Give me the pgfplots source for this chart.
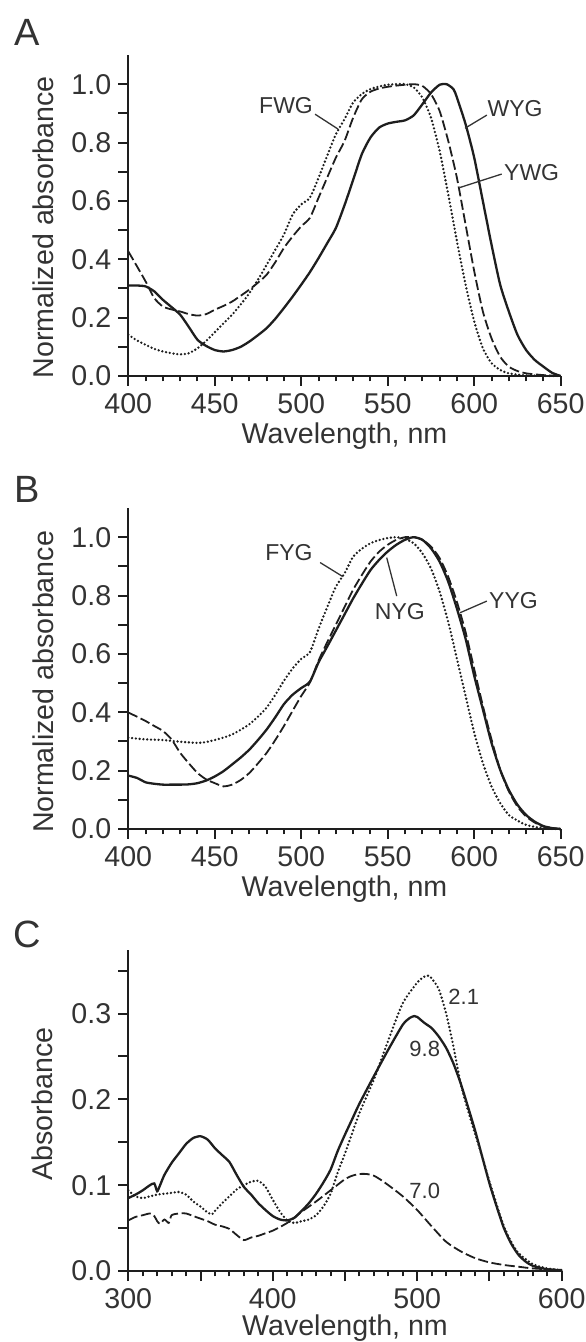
\documentclass[border=0pt]{standalone}
\usepackage{fontspec}
\setmainfont{Liberation Sans}
\usepackage{pgfplots}
\pgfplotsset{compat=1.18}
\definecolor{ink}{HTML}{1E1E1E}
\definecolor{txt}{HTML}{333333}

\pgfplotsset{
  spec/.style={
    scale only axis, width=216.2pt, height=160.5pt,
    axis x line*=bottom, axis y line*=left,
    axis line style={ink, line width=1.1pt},
    tick align=outside, tick style={ink, line width=1pt},
    major tick length=5pt, minor tick length=2.7pt,
    clip=false,
    tick label style={font=\fontsize{14.3}{16}\selectfont, text=txt},
    label style={font=\fontsize{14.3}{16}\selectfont, text=txt},
    xlabel={Wavelength, nm},
    xlabel style={at={(axis description cs:0.5,0)}, anchor=base, yshift=-34pt},
    ylabel style={anchor=center},
  },
  sol/.style={ink, line width=1.15pt, smooth, tension=0.4},
  dsh/.style={ink, line width=0.9pt, dash pattern=on 5pt off 1.8pt, smooth, tension=0.4},
  dot/.style={ink, line width=1.3pt, line cap=round, dash pattern=on 0pt off 1.9pt, smooth, tension=0.4},
}
\tikzset{
  lead/.style={txt, line width=0.65pt},
  ann/.style={font=\fontsize{11.5}{13}\selectfont, text=txt},
  annc/.style={font=\fontsize{11}{12}\selectfont, text=txt},
  plab/.style={font=\fontsize{19}{21}\selectfont, text=txt},
}

\begin{document}
\begin{tikzpicture}
\useasboundingbox (0,0) rectangle (292.5pt,671pt);

\node[plab] at (13.7pt,655pt) {A};
\node[plab] at (13.7pt,426.5pt) {B};
\node[plab] at (13.7pt,204pt) {C};

% panel A
\begin{axis}[spec, at={(64.15pt,483pt)}, anchor=south west,
    xmin=400, xmax=650, ymin=0, ymax=1.1,
    xtick={400,450,500,550,600,650}, xticklabels={400,450,500,550,600,650},
    minor x tick num=4,
    ytick={0,0.1,0.2,0.3,0.4,0.5,0.6,0.7,0.8,0.9,1.0},
    yticklabels={0.0,,0.2,,0.4,,0.6,,0.8,,1.0},
    ylabel={Normalized absorbance},
    ylabel style={at={(axis description cs:-0.197,0.4626)}},
]
% WYG
\addplot[sol] coordinates {
(400,0.310) (405,0.310) (410,0.307) (415,0.290) (420,0.261) (425,0.236) (430,0.210)
(435,0.168) (440,0.124) (445,0.103) (450,0.089) (455,0.084) (460,0.089) (465,0.100)
(470,0.118) (475,0.140) (480,0.164) (485,0.196) (490,0.233) (495,0.272) (500,0.313)
(505,0.356) (510,0.404) (515,0.455) (520,0.507) (525,0.585) (530,0.672) (535,0.760)
(540,0.817) (545,0.851) (550,0.865) (555,0.871) (560,0.876) (565,0.893) (570,0.931)
(575,0.971) (580,0.998) (584,1.000) (588,0.983) (590,0.954) (595,0.863) (600,0.748)
(605,0.599) (610,0.450) (615,0.313) (620,0.221) (625,0.141) (630,0.089) (635,0.055)
(640,0.032) (645,0.011) (650,0.000)};
% YWG
\addplot[dsh] coordinates {
(400,0.427) (405,0.376) (410,0.324) (415,0.267) (420,0.238) (425,0.228) (430,0.221)
(435,0.212) (440,0.207) (445,0.212) (450,0.227) (455,0.240) (460,0.255) (465,0.275)
(470,0.296) (475,0.320) (480,0.347) (485,0.390) (490,0.439) (495,0.478) (500,0.513)
(505,0.542) (510,0.611) (515,0.680) (520,0.748) (525,0.805) (530,0.885) (535,0.948)
(540,0.974) (545,0.985) (550,0.991) (555,0.995) (560,0.998) (565,1.000) (570,0.994)
(575,0.966) (580,0.908) (585,0.805) (590,0.679) (595,0.519) (600,0.359) (605,0.221)
(610,0.129) (615,0.066) (620,0.032) (625,0.017) (630,0.009) (640,0.003) (650,0.000)};
% FWG
\addplot[dot] coordinates {
(400,0.141) (405,0.122) (410,0.107) (415,0.093) (420,0.084) (425,0.078) (430,0.074)
(435,0.078) (440,0.095) (445,0.120) (450,0.150) (455,0.180) (460,0.210) (465,0.245)
(470,0.284) (475,0.330) (480,0.381) (485,0.433) (490,0.485) (495,0.553) (500,0.588)
(505,0.611) (510,0.679) (515,0.755) (520,0.828) (525,0.880) (530,0.937) (535,0.966)
(540,0.983) (545,0.992) (550,0.998) (555,1.000) (560,1.000) (565,0.989) (570,0.954)
(575,0.885) (580,0.771) (585,0.622) (590,0.462) (595,0.313) (600,0.187) (605,0.095)
(610,0.044) (615,0.021) (620,0.009) (630,0.002) (650,0.000)};
\node[ann] at (axis cs:491.2,0.928) {FWG};
\draw[lead] (axis cs:508,0.897) -- (axis cs:521.3,0.846);
\node[ann] at (axis cs:623.6,0.918) {WYG};
\draw[lead] (axis cs:607.3,0.894) -- (axis cs:594.7,0.849);
\node[ann] at (axis cs:633.2,0.697) {YWG};
\draw[lead] (axis cs:615.9,0.692) -- (axis cs:591.8,0.646);
\end{axis}

% panel B
\begin{axis}[spec, at={(64.15pt,256.5pt)}, anchor=south west,
    xmin=400, xmax=650, ymin=0, ymax=1.1,
    xtick={400,450,500,550,600,650}, xticklabels={400,450,500,550,600,650},
    minor x tick num=4,
    ytick={0,0.1,0.2,0.3,0.4,0.5,0.6,0.7,0.8,0.9,1.0},
    yticklabels={0.0,,0.2,,0.4,,0.6,,0.8,,1.0},
    ylabel={Normalized absorbance},
    ylabel style={at={(axis description cs:-0.197,0.458)}},
]
% NYG
\addplot[sol] coordinates {
(400,0.183) (405,0.175) (410,0.160) (415,0.155) (420,0.152) (425,0.152) (430,0.152)
(435,0.153) (440,0.157) (445,0.166) (450,0.180) (455,0.198) (460,0.221) (465,0.245)
(470,0.272) (475,0.305) (480,0.341) (485,0.383) (490,0.428) (495,0.460) (500,0.483)
(505,0.505) (510,0.571) (515,0.625) (520,0.680) (525,0.735) (530,0.790) (535,0.840)
(540,0.887) (545,0.922) (550,0.951) (555,0.974) (560,0.991) (565,1.000) (570,0.991)
(575,0.962) (580,0.916) (585,0.847) (590,0.755) (595,0.652) (600,0.525) (605,0.410)
(610,0.295) (615,0.203) (620,0.134) (625,0.083) (630,0.048) (635,0.025) (640,0.010)
(645,0.003) (650,0.000)};
% YYG
\addplot[dsh] coordinates {
(400,0.399) (405,0.385) (410,0.370) (415,0.353) (420,0.336) (425,0.307) (430,0.261)
(435,0.225) (440,0.192) (445,0.170) (450,0.157) (455,0.146) (460,0.152) (465,0.168)
(470,0.192) (475,0.225) (480,0.261) (485,0.305) (490,0.353) (495,0.405) (500,0.456)
(505,0.502) (510,0.577) (515,0.640) (520,0.700) (525,0.760) (530,0.820) (535,0.870)
(540,0.916) (545,0.950) (550,0.974) (555,0.991) (560,1.000) (565,1.000) (570,0.991)
(575,0.968) (580,0.928) (585,0.864) (590,0.778) (595,0.675) (600,0.548) (605,0.422)
(610,0.307) (615,0.203) (620,0.129) (625,0.077) (630,0.043) (635,0.022) (640,0.008)
(650,0.000)};
% FYG
\addplot[dot] coordinates {
(400,0.313) (410,0.307) (420,0.305) (430,0.299) (440,0.295) (445,0.298) (450,0.305)
(455,0.313) (460,0.324) (465,0.340) (470,0.359) (475,0.385) (480,0.416) (485,0.460)
(490,0.508) (495,0.550) (500,0.583) (505,0.606) (510,0.686) (515,0.760) (520,0.830)
(525,0.876) (530,0.933) (535,0.960) (540,0.979) (545,0.990) (550,0.997) (555,1.000)
(560,0.994) (565,0.979) (570,0.945) (575,0.893) (580,0.813) (585,0.709) (590,0.583)
(595,0.456) (600,0.330) (605,0.226) (610,0.146) (615,0.089) (620,0.048) (625,0.029)
(630,0.014) (640,0.002) (650,0.000)};
\node[ann] at (axis cs:492.9,0.947) {FYG};
\draw[lead] (axis cs:510.9,0.913) -- (axis cs:524.0,0.865);
\node[ann] at (axis cs:557,0.746) {NYG};
\draw[lead] (axis cs:555.2,0.798) -- (axis cs:549.4,0.930);
\node[ann] at (axis cs:622.7,0.781) {YYG};
\draw[lead] (axis cs:607.3,0.781) -- (axis cs:591.8,0.741);
\end{axis}

% panel C
\begin{axis}[spec, at={(64.15pt,35.5pt)}, anchor=south west, width=216.7pt,
    xmin=300, xmax=600, ymin=0, ymax=0.374,
    xtick={300,350,400,450,500,550,600}, xticklabels={300,,400,,500,,600},
    minor x tick num=4,
    ytick={0,0.05,0.1,0.15,0.2,0.25,0.3,0.35},
    yticklabels={0.0,,0.1,,0.2,,0.3,},
    ylabel={Absorbance},
    ylabel style={at={(axis description cs:-0.199,0.52)}},
    xlabel style={yshift=2pt},
]
% pH 9.8
\addplot[sol] coordinates {
(300,0.085) (305,0.089) (310,0.094) (315,0.100) (318,0.102) (320,0.093) (322,0.100)
(325,0.112) (330,0.126) (335,0.137) (340,0.148) (345,0.155) (350,0.157) (355,0.153)
(360,0.143) (365,0.135) (370,0.127) (375,0.112) (380,0.098) (385,0.089) (390,0.079)
(395,0.071) (400,0.064) (405,0.060) (410,0.059) (415,0.062) (420,0.070) (425,0.079)
(430,0.090) (435,0.103) (440,0.118) (445,0.140) (450,0.159) (455,0.177) (460,0.195)
(470,0.227) (480,0.258) (490,0.287) (495,0.295) (498,0.297) (500,0.296) (505,0.289)
(510,0.283) (515,0.273) (520,0.260) (525,0.242) (530,0.219) (535,0.192) (540,0.164)
(545,0.133) (550,0.102) (555,0.075) (560,0.050) (565,0.032) (570,0.019) (575,0.011)
(580,0.006) (590,0.002) (600,0.001)};
% pH 2.1
\addplot[dot] coordinates {
(300,0.094) (305,0.087) (310,0.085) (315,0.087) (320,0.089) (325,0.090) (330,0.091)
(335,0.092) (340,0.089) (345,0.081) (350,0.075) (355,0.068) (358,0.066) (360,0.070)
(365,0.079) (370,0.087) (375,0.095) (380,0.100) (385,0.104) (390,0.105) (395,0.098)
(400,0.083) (405,0.069) (410,0.059) (415,0.056) (420,0.058) (425,0.060) (430,0.065)
(435,0.075) (440,0.090) (445,0.115) (450,0.137) (460,0.184) (470,0.223) (480,0.269)
(490,0.312) (500,0.336) (505,0.343) (508,0.344) (510,0.341) (515,0.328) (520,0.300)
(525,0.262) (530,0.219) (535,0.188) (540,0.160) (545,0.133) (550,0.104) (555,0.077)
(560,0.052) (565,0.034) (570,0.021) (580,0.008) (590,0.003) (600,0.001)};
% pH 7.0
\addplot[dsh] coordinates {
(300,0.059) (305,0.063) (310,0.065) (315,0.067) (318,0.064) (320,0.058) (322,0.055)
(325,0.060) (328,0.056) (330,0.065) (335,0.067) (340,0.067) (345,0.064) (350,0.061)
(355,0.058) (360,0.054) (365,0.052) (370,0.049) (375,0.042) (380,0.036) (385,0.039)
(390,0.041) (395,0.044) (400,0.047) (410,0.056) (420,0.069) (430,0.081) (440,0.094)
(450,0.107) (455,0.111) (460,0.113) (465,0.113) (470,0.111) (475,0.106) (480,0.100)
(490,0.087) (500,0.071) (510,0.052) (520,0.034) (530,0.023) (540,0.015) (550,0.010)
(560,0.007) (570,0.005) (580,0.003) (600,0.001)};
\node[annc] at (axis cs:532.2,0.319) {2.1};
\node[annc] at (axis cs:505.2,0.259) {9.8};
\node[annc] at (axis cs:505.2,0.093) {7.0};
\end{axis}
\end{tikzpicture}
\end{document}
